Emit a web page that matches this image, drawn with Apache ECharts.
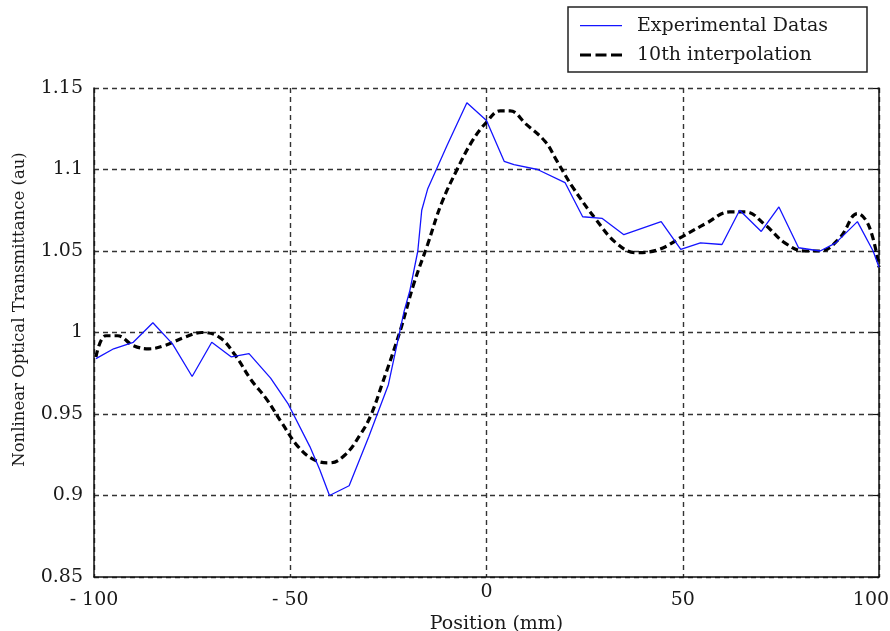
<!DOCTYPE html>
<html>
<head>
<meta charset="utf-8">
<script src="https://cdn.jsdelivr.net/npm/echarts@6/dist/echarts.min.js"></script>
<style>
  html, body { margin: 0; padding: 0; background: #fff; }
  #chart { width: 890px; height: 631px; }
</style>
</head>
<body>
<div id="chart"></div>
<script>
// experimental points (position in mm, transmittance)
const expX = [-99.5, -95, -90, -85, -80, -75, -70, -65, -60.5, -55, -50.5, -45, -42.5, -40, -35, -30, -25, -21, -19.5, -17.5, -16.5, -15, -10, -5, 0, 4.5, 7, 13, 20, 24.5, 29.5, 35, 44.5, 49.5, 54.5, 60, 64.5, 70, 74.5, 79.5, 85, 89, 94.5, 98.5, 100]
const expY = [0.984, 0.990, 0.994, 1.006, 0.993, 0.973, 0.994, 0.985, 0.987, 0.972, 0.956, 0.930, 0.916, 0.900, 0.906, 0.936, 0.968, 1.013, 1.026, 1.050, 1.075, 1.088, 1.115, 1.141, 1.130, 1.105, 1.103, 1.100, 1.092, 1.071, 1.070, 1.060, 1.068, 1.051, 1.055, 1.054, 1.075, 1.062, 1.077, 1.052, 1.050, 1.055, 1.068, 1.050, 1.040]

// 10th order fit
const fitX = [-99.5, -97, -94, -90, -86, -82, -77, -72.5, -68, -64, -60, -56, -52, -48, -44, -40, -36, -32, -29.5, -26.5, -22, -18.5, -15, -11.5, -7.5, -3.5, 0, 3.5, 6, 10, 15, 18, 22, 28, 33, 38, 44, 50, 56, 62, 66, 71, 76, 81, 85, 90, 94.5, 97.5, 100]
const fitY = [0.985, 0.998, 0.998, 0.992, 0.990, 0.992, 0.997, 1.000, 0.997, 0.986, 0.971, 0.959, 0.944, 0.930, 0.922, 0.920, 0.925, 0.938, 0.949, 0.969, 1.001, 1.030, 1.054, 1.079, 1.100, 1.118, 1.129, 1.136, 1.136, 1.128, 1.117, 1.105, 1.089, 1.069, 1.055, 1.049, 1.051, 1.059, 1.067, 1.074, 1.074, 1.066, 1.055, 1.050, 1.050, 1.058, 1.073, 1.065, 1.040]

const seriesNames = ['Experimental Datas', '10th interpolation']

const font = 'DejaVu Serif'
const textColor = '#1a1a1a'

// legend icons: thin solid line, and three short dashes
const solidIcon = 'path://M0,1H42V2.2H0Z M0,0H0.01V0.01H0Z M0,3.99H0.01V4H0Z'
const dashIcon = 'path://M0,0.5H11V3.5H0Z M15.5,0.5H26.5V3.5H15.5Z M31,0.5H42V3.5H31Z M0,0H0.01V0.01H0Z M0,3.99H0.01V4H0Z'

const chart = echarts.init(document.getElementById('chart'))

const gridLine = {
  show: true,
  lineStyle: { color: '#333', width: 1.4, type: [5, 4] }
}

const option = {
  animation: false,
  backgroundColor: '#fff',
  textStyle: { fontFamily: font },
  grid: { left: 94, right: 11, top: 88, bottom: 54, outerBoundsMode: 'none' },
  legend: {
    orient: 'vertical',
    left: 568,
    top: 7,
    data: [
      { name: seriesNames[0], icon: solidIcon },
      { name: seriesNames[1], icon: dashIcon }
    ],
    backgroundColor: '#fff',
    borderColor: '#222',
    borderWidth: 1.5,
    borderRadius: 0,
    padding: [9, 39, 7, 12],
    itemWidth: 42,
    itemHeight: 4,
    itemGap: 9,
    textStyle: {
      fontFamily: font,
      fontSize: 19,
      lineHeight: 20,
      color: textColor,
      padding: [0, 0, 0, 10]
    }
  },
  xAxis: {
    type: 'value',
    min: -100,
    max: 100,
    interval: 50,
    name: 'Position (mm)',
    nameLocation: 'middle',
    nameGap: 31,
    nameTextStyle: { fontFamily: font, fontSize: 19, color: textColor, padding: [0, 0, 0, 20] },
    axisLine: { show: true, onZero: false, lineStyle: { color: '#111', width: 1.5 } },
    axisTick: { show: false },
    axisLabel: {
      margin: 6,
      fontFamily: font,
      fontSize: 19,
      color: textColor,
      // 0 sits a little higher than the others, 100 is pulled in from the edge
      formatter: v => {
        if (v === 0) return '0'
        if (v === 100) return '{r|100}'
        return '{n|' + (v < 0 ? '- ' + Math.abs(v) : String(v)) + '}'
      },
      rich: {
        n: { fontFamily: font, fontSize: 19, color: textColor, padding: [8, 0, 0, 0] },
        r: { fontFamily: font, fontSize: 19, color: textColor, padding: [8, 16, 0, 0] }
      }
    },
    splitLine: gridLine
  },
  yAxis: [
    {
      type: 'value',
      min: 0.85,
      max: 1.15,
      interval: 0.05,
      name: 'Nonlinear Optical Transmittance (au)',
      nameLocation: 'middle',
      nameGap: 66,
      nameTextStyle: { fontFamily: font, fontSize: 16.5, color: textColor, padding: [0, 0, 0, 46] },
      axisLine: { show: true, onZero: false, lineStyle: { color: '#111', width: 1.5 } },
      axisTick: { show: false },
      axisLabel: {
        margin: 11,
        fontFamily: font,
        fontSize: 19,
        color: textColor,
        formatter: v => String(Math.round(v * 100) / 100)
      },
      splitLine: gridLine
    },
    {
      type: 'value',
      position: 'right',
      min: 0.85,
      max: 1.15,
      interval: 0.05,
      axisLine: { show: true, onZero: false, lineStyle: { color: '#111', width: 1.5 } },
      axisTick: { show: true, inside: true, length: 6, lineStyle: { color: '#111', width: 1.2 } },
      axisLabel: { show: false },
      splitLine: { show: false }
    }
  ],
  series: [
    {
      name: seriesNames[0],
      type: 'line',
      data: expX.map((x, i) => [x, expY[i]]),
      symbol: 'none',
      lineStyle: { color: '#1414ff', width: 1.3 },
      itemStyle: { color: '#1414ff' },
      z: 3
    },
    {
      name: seriesNames[1],
      type: 'line',
      data: fitX.map((x, i) => [x, fitY[i]]),
      symbol: 'none',
      smooth: 0.4,
      lineStyle: { color: '#000', width: 3.2, type: [7, 4] },
      itemStyle: { color: '#000' },
      z: 2
    }
  ]
}

chart.setOption(option)
</script>
</body>
</html>
